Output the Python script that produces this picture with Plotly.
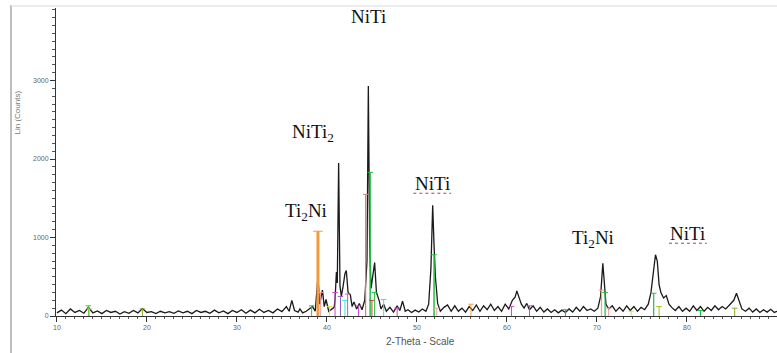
import plotly.graph_objects as go

# ---- diffraction trace (2-theta in degrees, counts) ----
two_theta = [
    10.0, 10.5, 11.0, 11.5, 12.0, 12.5, 13.0, 13.5, 14.0, 14.5, 15.0, 15.5, 16.0, 16.5,
    17.0, 17.5, 18.0, 18.5, 19.0, 19.5, 20.0, 20.5, 21.0, 21.5, 22.0, 22.5, 23.0, 23.5,
    24.0, 24.5, 25.0, 25.5, 26.0, 26.5, 27.0, 27.5, 28.0, 28.5, 29.0, 29.5, 30.0, 30.5,
    31.0, 31.5, 32.0, 32.5, 33.0, 33.5, 34.0, 34.5, 35.0, 35.5, 35.8, 36.1, 36.4, 36.8,
    37.0, 37.3, 37.7, 38.0, 38.4, 38.7, 39.0, 39.2, 39.5, 39.7, 39.9, 40.2, 40.5, 40.8,
    40.9, 41.05, 41.15, 41.3, 41.45, 41.6, 41.8, 42.0, 42.15, 42.35, 42.6, 42.8, 43.0,
    43.3, 43.6, 43.9, 44.2, 44.45, 44.6, 44.75, 44.9, 45.1, 45.3, 45.5, 45.8, 46.0, 46.3,
    46.6, 47.0, 47.4, 47.8, 48.1, 48.4, 48.7, 49.0, 49.4, 49.8, 50.2, 50.6, 51.0, 51.3,
    51.55, 51.75, 51.9, 52.05, 52.3, 52.6, 53.0, 53.4, 53.8, 54.2, 54.6, 55.0, 55.4, 55.8,
    56.2, 56.6, 57.0, 57.4, 57.8, 58.2, 58.6, 59.0, 59.4, 59.8, 60.2, 60.6, 60.9, 61.1,
    61.3, 61.6, 61.9, 62.2, 62.5, 62.9, 63.3, 63.7, 64.1, 64.5, 64.9, 65.3, 65.7, 66.1,
    66.5, 66.9, 67.3, 67.7, 68.1, 68.5, 68.9, 69.3, 69.7, 70.1, 70.4, 70.65, 70.8, 71.0,
    71.3, 71.7, 72.1, 72.5, 72.9, 73.3, 73.7, 74.1, 74.5, 74.9, 75.3, 75.7, 76.0, 76.3,
    76.5, 76.7, 76.9, 77.1, 77.4, 77.7, 78.0, 78.3, 78.7, 79.1, 79.5, 79.9, 80.3, 80.7,
    81.1, 81.5, 81.9, 82.3, 82.7, 83.1, 83.5, 83.9, 84.3, 84.8, 85.2, 85.5, 85.8, 86.1,
    86.5, 86.9, 87.3, 87.7, 88.1, 88.5, 88.9, 89.3, 89.7, 90.0,
]
counts = [
    40, 75, 30, 90, 45, 70, 35, 110, 40, 65, 30, 70, 45, 60,
    25, 55, 35, 70, 40, 95, 45, 55, 30, 60, 40, 55, 35, 65,
    40, 60, 30, 70, 45, 60, 35, 75, 40, 65, 30, 70, 45, 80,
    35, 75, 40, 85, 45, 70, 40, 90, 55, 120, 60, 200, 70, 50,
    90, 40, 60, 90, 120, 60, 500, 150, 330, 120, 210, 60, 90, 110,
    200, 560, 420, 1950, 380, 250, 380, 540, 580, 300, 270, 120, 180,
    90, 160, 80, 200, 700, 2930, 900, 350, 520, 680, 300, 200, 90, 150,
    60, 110, 50, 130, 70, 190, 60, 80, 45, 75, 50, 90, 60, 150,
    600, 1410, 900, 500, 160, 60, 110, 140, 60, 130, 60, 100, 50, 120,
    70, 140, 60, 130, 80, 150, 70, 120, 60, 150, 90, 200, 240, 320,
    250, 150, 100, 160, 80, 130, 60, 110, 50, 90, 45, 80, 40, 75,
    45, 90, 50, 110, 60, 120, 70, 90, 60, 100, 250, 670, 450, 150,
    90, 130, 60, 110, 60, 130, 70, 120, 60, 110, 80, 150, 300, 600,
    780, 700, 400, 300, 230, 260, 150, 110, 70, 120, 60, 100, 60, 130,
    70, 120, 60, 110, 70, 130, 80, 120, 90, 150, 200, 290, 180, 90,
    60, 100, 50, 90, 45, 80, 50, 85, 45, 60,
]

# ---- coloured reference-pattern sticks ----
stick_pos = [13.5, 13.6, 19.5, 38.3, 39.0, 39.3, 40.3, 40.9, 41.5, 42.0, 42.3, 43.5,
             44.3, 44.8, 45.0, 45.3, 46.3, 47.8, 51.9, 52.2, 56.0, 60.5, 62.5, 66.5,
             70.5, 70.9, 71.3, 73.8, 76.3, 76.9, 81.5, 85.3]
stick_height = [130, 90, 90, 130, 1080, 300, 120, 300, 250, 200, 280, 130,
                1550, 1830, 200, 300, 210, 100, 780, 100, 150, 120, 130, 80,
                330, 300, 100, 60, 290, 120, 70, 100]
stick_color = ["#33cc33", "#f5b070", "#88aa22", "#22cc44", "#f39a40", "#e8a0a0",
               "#e8e040", "#d040d0", "#8a5ad0", "#40e0e0", "#c060a0", "#d040d0",
               "#d08080", "#20c040", "#e03030", "#20c040", "#40e0e0", "#d040d0",
               "#20c040", "#e8a0a0", "#f0a040", "#d040d0", "#d040d0", "#20c040",
               "#f0a080", "#20c040", "#e8a0a0", "#e8e040", "#20c040", "#a0c020",
               "#20c040", "#88aa22"]
stick_width = [1, 1, 1, 1, 3, 1, 1, 1, 1, 1, 1, 1,
               1.2, 1.5, 1, 1, 1, 1, 1.5, 1, 1, 1, 1, 1,
               1.2, 1.2, 1, 1, 1.2, 1, 1, 1]

# ---- phase labels ----
label_text = ["NiTi", "NiTi<sub>2</sub>", "Ti<sub>2</sub>Ni", "NiTi", "Ti<sub>2</sub>Ni", "NiTi"]
label_x = [44.6, 38.4, 37.7, 51.7, 69.6, 80.1]
label_y = [3822, 2331, 1325, 1694, 981, 1057]
underlined = [False, False, False, True, False, True]

fig = go.Figure()

fig.add_trace(go.Scatter(x=two_theta, y=counts, mode="lines",
                         line=dict(color="#1a1a1a", width=1.3), hoverinfo="skip"))

for p, h, c, w in zip(stick_pos, stick_height, stick_color, stick_width):
    fig.add_trace(go.Scatter(x=[p, p], y=[0, h], mode="lines",
                             line=dict(color=c, width=w), hoverinfo="skip"))
    fig.add_trace(go.Scatter(x=[p], y=[h], mode="markers",
                             marker=dict(symbol="line-ew", size=7 if w > 2 else 4,
                                         line=dict(color=c, width=1)),
                             hoverinfo="skip"))

for t, x, y, u in zip(label_text, label_x, label_y, underlined):
    fig.add_annotation(x=x, y=y, text=t, showarrow=False,
                       font=dict(family="Liberation Serif", size=19, color="#111"))
    if u:
        fig.add_shape(type="line", x0=x - 2.1, x1=x + 2.1, y0=y - 130, y1=y - 130,
                      xref="x", yref="y", line=dict(color="#a04848", width=1, dash="dot"))

# axis titles
fig.add_annotation(xref="paper", yref="paper", x=-0.053, y=0.66, text="Lin (Counts)",
                   textangle=-90, showarrow=False, xanchor="center", yanchor="middle",
                   font=dict(family="Liberation Sans", size=8, color="#777"))
fig.add_annotation(xref="paper", yref="paper", x=0.505, y=-0.084, text="2-Theta - Scale",
                   showarrow=False, xanchor="center", yanchor="middle",
                   font=dict(family="Liberation Sans", size=10, color="#555"))

# page frame lines
fig.add_shape(type="line", xref="paper", yref="paper", x0=-0.0624, x1=-0.0624, y0=1.01, y1=-0.2,
              line=dict(color="#a8a8a8", width=1.5))
fig.add_shape(type="line", xref="paper", yref="paper", x0=-0.0624, x1=1.0, y0=1.0065, y1=1.0065,
              line=dict(color="#e6e6e6", width=1.5))

fig.update_layout(
    width=777, height=353,
    margin=dict(l=56, r=0, t=8, b=37),
    paper_bgcolor="white", plot_bgcolor="white",
    showlegend=False,
    xaxis=dict(range=[9.9, 90.0], tickmode="linear", tick0=10, dtick=10,
               showgrid=False, zeroline=False, showline=True, linecolor="#333", linewidth=1,
               ticks="outside", ticklen=5, tickcolor="#333",
               minor=dict(dtick=1, ticks="outside", ticklen=2, tickcolor="#555", showgrid=False),
               tickfont=dict(family="Liberation Sans", size=7, color="#666")),
    yaxis=dict(range=[0, 3924], tickmode="linear", tick0=0, dtick=1000,
               showgrid=False, zeroline=False, showline=True, linecolor="#333", linewidth=1,
               ticks="outside", ticklen=5, tickcolor="#333",
               minor=dict(dtick=100, ticks="outside", ticklen=3, tickcolor="#555", showgrid=False),
               tickfont=dict(family="Liberation Sans", size=7, color="#666")),
)

fig.write_html("out.html")
